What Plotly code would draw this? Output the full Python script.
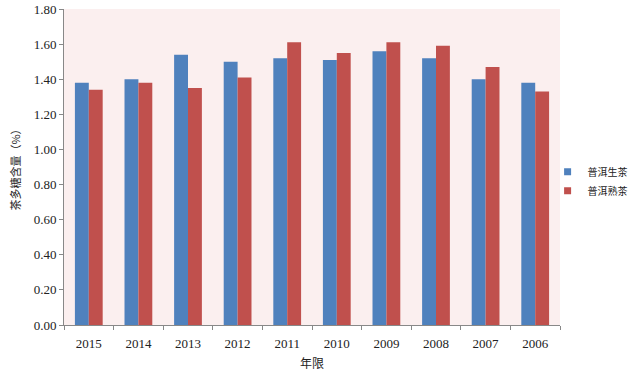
import plotly.graph_objects as go

years = ["2015", "2014", "2013", "2012", "2011", "2010", "2009", "2008", "2007", "2006"]
raw_tea = [1.38, 1.40, 1.54, 1.50, 1.52, 1.51, 1.56, 1.52, 1.40, 1.38]
ripe_tea = [1.34, 1.38, 1.35, 1.41, 1.61, 1.55, 1.61, 1.59, 1.47, 1.33]
series_names = ["普洱生茶", "普洱熟茶"]
colors = ["#4f81bd", "#c0504d"]
y_ticks = [0.0, 0.2, 0.4, 0.6, 0.8, 1.0, 1.2, 1.4, 1.6, 1.8]

serif = "Liberation Serif, Times New Roman, Noto Sans CJK SC, serif"
cjk = "Noto Sans CJK SC, sans-serif"

fig = go.Figure()
for name, vals, col in zip(series_names, [raw_tea, ripe_tea], colors):
    fig.add_trace(go.Bar(x=years, y=vals, name=name, showlegend=False,
                         marker=dict(color=col, line=dict(width=0))))
# legend entries with small square swatches
for name, col in zip(series_names, colors):
    fig.add_trace(go.Scatter(x=[None], y=[None], mode="markers", name=name,
                             marker=dict(symbol="square", size=7, color=col)))

fig.update_layout(
    width=640, height=375,
    margin=dict(l=64, r=80, t=9, b=50, autoexpand=False),
    paper_bgcolor="white",
    plot_bgcolor="#fbefef",
    barmode="group",
    bargap=0.44,
    bargroupgap=0,
    font=dict(family=serif, size=12, color="#222"),
    legend=dict(x=0.975, y=0.455, xanchor="left", yanchor="middle",
                font=dict(family=cjk, size=10, color="#222"),
                itemwidth=30, tracegroupgap=0, bgcolor="rgba(0,0,0,0)"),
    showlegend=True,
)
fig.update_xaxes(
    type="category", showgrid=False, showline=True, linecolor="#888", linewidth=1,
    ticks="outside", tickson="boundaries", ticklen=4, tickcolor="#888",
    automargin=False, ticklabelstandoff=6,
    tickfont=dict(family=serif, size=13, color="#222"),
    title=dict(text="年限", font=dict(family=cjk, size=12, color="#222"), standoff=10),
)
fig.update_yaxes(
    range=[0, 1.8], tickvals=y_ticks, tickformat=".2f", showgrid=False,
    showline=True, linecolor="#888", linewidth=1, ticks="outside", ticklen=4,
    tickcolor="#888", zeroline=False, automargin=False,
    tickfont=dict(family=serif, size=13, color="#222"),
    title=dict(text="茶多糖含量（%）", font=dict(family=cjk, size=11, color="#222"), standoff=10),
)

fig.write_html("out.html", config={"displayModeBar": False},
               post_script="document.body.style.margin='0';")
